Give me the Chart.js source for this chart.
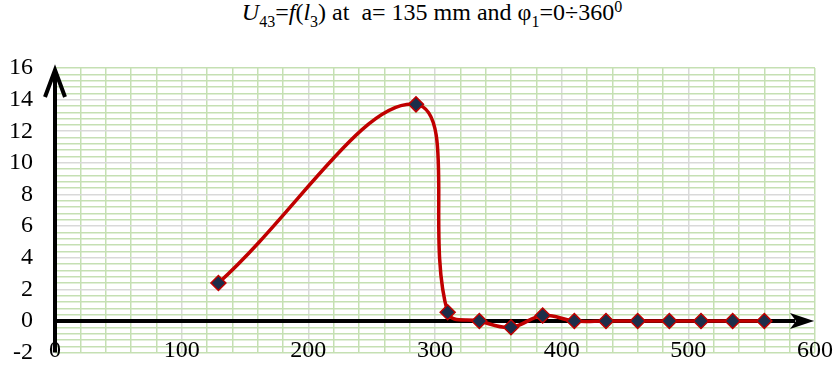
<!DOCTYPE html>
<html>
<head>
<meta charset="utf-8">
<script src="https://cdn.jsdelivr.net/npm/chart.js@4"></script>
<style>
  body { margin: 0; background: #fff; }
  #wrap { position: relative; width: 837px; height: 389px; overflow: hidden; }
  #title {
    position: absolute; top: 0; left: 432px; transform: translateX(-50%);
    white-space: nowrap; font-family: 'Liberation Serif', serif;
    font-size: 24px; line-height: 24px; color: #000;
  }
  #title sub, #title sup { font-size: 16px; line-height: 0; }
  #title sub { vertical-align: -7px; }
  #title sup { vertical-align: 8px; }
  canvas { position: absolute; left: 0; top: 0; }
</style>
</head>
<body>
<div id="wrap">
  <div id="title"><i>U</i><sub>43</sub>=<i>f</i>(<i>l</i><sub>3</sub>) at&nbsp; a= 135 mm and φ<sub>1</sub>=0÷360<sup>0</sup></div>
  <canvas id="chart" width="837" height="389"></canvas>
</div>
<script>
// données
const l3Values = [129, 285, 310, 335, 360, 385, 410, 435, 460, 485, 510, 535, 560];
const u43Values = [2.4, 13.7, 0.55, 0, -0.4, 0.35, 0, 0, 0, 0, 0, 0, 0];

const xMin = 0, xMax = 600, xMajor = 100, xMinor = 20;
const yMin = -2, yMax = 16, yMajor = 2, yMinor = 0.4;

const GREEN = '#c5e0b3';
const GRAY = '#d9d9d9';
const FONT = { family: "'Liberation Serif', serif", size: 24 };

function isMultiple(v, step) {
    return Math.abs(v / step - Math.round(v / step)) < 1e-6;
}

function gridColor(min, max, major) {
    return function(ctx) {
        const v = ctx.tick ? ctx.tick.value : 0;
        if (Math.abs(v - min) < 1e-6 || Math.abs(v - max) < 1e-6) return GREEN;
        return isMultiple(v, major) ? GRAY : GREEN;
    };
}

// axes noirs avec flèches
const arrowAxes = {
    id: 'arrowAxes',
    beforeDatasetsDraw(chart) {
        const { ctx, scales: { x, y } } = chart;
        const x0 = x.getPixelForValue(0);
        const y0 = y.getPixelForValue(0);
        const yBottom = y.getPixelForValue(yMin);
        const yTop = y.getPixelForValue(yMax);
        const xEnd = x.getPixelForValue(xMax);
        ctx.save();
        ctx.strokeStyle = '#000';
        ctx.fillStyle = '#000';
        ctx.lineWidth = 4;
        // axe vertical
        ctx.beginPath();
        ctx.moveTo(x0, yBottom);
        ctx.lineTo(x0, yTop + 2);
        ctx.stroke();
        ctx.beginPath();
        ctx.moveTo(x0 - 10, yTop + 29);
        ctx.lineTo(x0, yTop + 2);
        ctx.lineTo(x0 + 10, yTop + 29);
        ctx.stroke();
        // axe horizontal
        ctx.beginPath();
        ctx.moveTo(x0 - 2, y0);
        ctx.lineTo(xEnd - 20, y0);
        ctx.stroke();
        ctx.beginPath();
        ctx.moveTo(xEnd - 1, y0);
        ctx.lineTo(xEnd - 25, y0 - 8);
        ctx.lineTo(xEnd - 19, y0);
        ctx.lineTo(xEnd - 25, y0 + 8);
        ctx.closePath();
        ctx.fill();
        ctx.restore();
    }
};

new Chart(document.getElementById('chart'), {
    type: 'scatter',
    data: {
        datasets: [{
            data: l3Values.map((v, i) => ({ x: v, y: u43Values[i] })),
            showLine: true,
            borderColor: '#c00000',
            borderWidth: 3.5,
            tension: 0.4,
            pointStyle: 'rectRot',
            pointRadius: 7.5,
            pointBackgroundColor: '#1c2e4a',
            pointBorderColor: '#c00000',
            pointBorderWidth: 1.5
        }]
    },
    options: {
        responsive: false,
        animation: false,
        layout: { padding: { top: 68, right: 22, left: 0, bottom: 12 } },
        plugins: { legend: { display: false }, tooltip: { enabled: false } },
        scales: {
            x: {
                type: 'linear',
                min: xMin,
                max: xMax,
                // libellés posés à l'intérieur du bas de la zone, comme dans Excel
                position: { y: -0.95 },
                border: { display: false },
                grid: { color: gridColor(xMin, xMax, xMajor), lineWidth: 1.5, drawTicks: false },
                ticks: {
                    stepSize: xMinor,
                    autoSkip: false,
                    maxRotation: 0,
                    padding: 0,
                    color: '#000',
                    font: FONT,
                    callback: function(value) {
                        return isMultiple(value, xMajor) ? String(value) : '';
                    }
                }
            },
            y: {
                type: 'linear',
                min: yMin,
                max: yMax,
                afterFit: function(scale) { scale.width = 55; },
                border: { display: false },
                grid: { color: gridColor(yMin, yMax, yMajor), lineWidth: 1.5, drawTicks: false },
                ticks: {
                    stepSize: yMinor,
                    autoSkip: false,
                    padding: 22,
                    color: '#000',
                    font: FONT,
                    callback: function(value) {
                        return isMultiple(value, yMajor) ? String(Math.round(value)) : '';
                    }
                }
            }
        }
    },
    plugins: [arrowAxes]
});
</script>
</body>
</html>
